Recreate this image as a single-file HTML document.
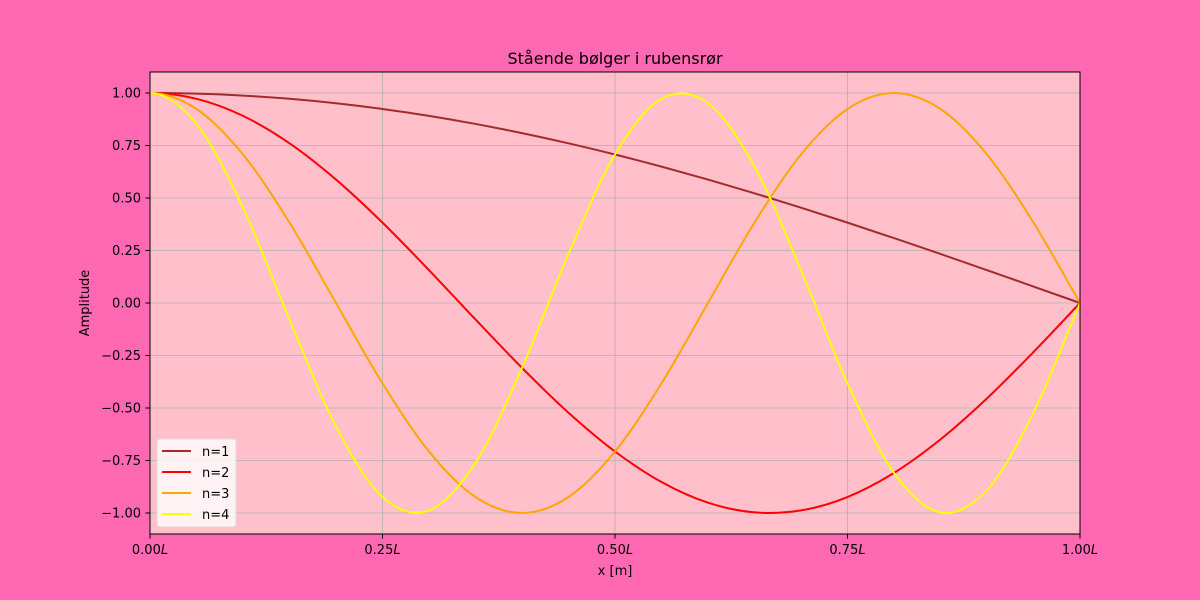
<!DOCTYPE html>
<html><head><meta charset="utf-8"><style>
html,body{margin:0;padding:0;background:#ff69b4;}
svg{display:block;font-family:"DejaVu Sans","Liberation Sans",sans-serif;}
</style></head><body>
<svg id="chart" width="1200" height="600">
<rect x="0" y="0" width="1200" height="600" fill="#ff69b4"/>
<rect x="150" y="72" width="930" height="462" fill="#ffc0cb"/>
<g id="grid"></g>
<g id="series"></g>
<rect x="150" y="72" width="930" height="462" fill="none" stroke="#000" stroke-width="1"/>
<g id="ticks"></g>
<text x="615" y="64" font-size="16" text-anchor="middle">Stående bølger i rubensrør</text>
<text x="615" y="575" font-size="13" text-anchor="middle">x [m]</text>
<text x="89" y="303" font-size="13" text-anchor="middle" transform="rotate(-90 89 303)">Amplitude</text>
<g id="legend"></g>
</svg>
<script>
const xValues=[0,0.05,0.1,0.15,0.2,0.25,0.3,0.35,0.4,0.45,0.5,0.55,0.6,0.65,0.7,0.75,0.8,0.85,0.9,0.95,1];
const seriesN1=[1,.9969,.9877,.9724,.9511,.9239,.8910,.8526,.8090,.7604,.7071,.6494,.5878,.5225,.4540,.3827,.3090,.2334,.1564,.0785,0];
const seriesN2=[1,.9724,.8910,.7604,.5878,.3827,.1564,-.0785,-.3090,-.5225,-.7071,-.8526,-.9511,-.9969,-.9877,-.9239,-.8090,-.6494,-.4540,-.2334,0];
const seriesN3=[1,.9239,.7071,.3827,0,-.3827,-.7071,-.9239,-1,-.9239,-.7071,-.3827,0,.3827,.7071,.9239,1,.9239,.7071,.3827,0];
const seriesN4=[1,.8526,.4540,-.0785,-.5878,-.9239,-.9877,-.7604,-.3090,.2334,.7071,.9724,.9511,.6494,.1564,-.3827,-.8090,-.9969,-.8910,-.5225,0];
const seriesNames=["n=1","n=2","n=3","n=4"];
const seriesColors=["#a52a2a","#ff0000","#ffa500","#ffff00"];
const xTicks=[0,0.25,0.5,0.75,1];
const xTickLabels=["0.00","0.25","0.50","0.75","1.00"];
const yTicks=[-1,-0.75,-0.5,-0.25,0,0.25,0.5,0.75,1];
const yTickLabels=["−1.00","−0.75","−0.50","−0.25","0.00","0.25","0.50","0.75","1.00"];
const NS="http://www.w3.org/2000/svg";
const sx=v=>150+v*930, sy=v=>303-v*210;
function mk(t,a,p){const e=document.createElementNS(NS,t);for(const k in a)e.setAttribute(k,a[k]);p.appendChild(e);return e;}
const grid=document.getElementById('grid'),ticks=document.getElementById('ticks');
xTicks.forEach((v,i)=>{
 const g=mk('line',{x1:sx(v),x2:sx(v),y1:72,y2:534,stroke:'#b0b0b0','stroke-width':0.8},grid);
 
 
 const t=mk('line',{x1:sx(v),x2:sx(v),y1:534,y2:538.5,stroke:'#000'},ticks);
 
 
 const l=mk('text',{x:sx(v),y:554,'font-size':13,'text-anchor':'middle'},ticks);
 l.innerHTML=xTickLabels[i]+'<tspan font-style="italic">L</tspan>';
 
 
});
yTicks.forEach((v,i)=>{
 const g=mk('line',{x1:150,x2:1080,y1:sy(v),y2:sy(v),stroke:'#b0b0b0','stroke-width':0.8},grid);
 
 
 const t=mk('line',{x1:145.5,x2:150,y1:sy(v),y2:sy(v),stroke:'#000'},ticks);
 
 
 const l=mk('text',{x:141,y:sy(v)+4.5,'font-size':13,'text-anchor':'end'},ticks);
 l.textContent=yTickLabels[i];
 
 
});
function pathFor(ys){
 const P=xValues.map((x,i)=>[sx(x),sy(ys[i])]);
 const n=P.length;
 const start=[2*P[0][0]-P[1][0],P[1][1]];
 const end=[2*P[n-1][0]-P[n-2][0],2*P[n-1][1]-P[n-2][1]];
 const Q=[start].concat(P,[end]);
 let d='M'+P[0][0]+','+P[0][1];
 for(let i=1;i<Q.length-2;i++){
  const p0=Q[i-1],p1=Q[i],p2=Q[i+1],p3=Q[i+2];
  const c1=[p1[0]+(p2[0]-p0[0])/6,p1[1]+(p2[1]-p0[1])/6];
  const c2=[p2[0]-(p3[0]-p1[0])/6,p2[1]-(p3[1]-p1[1])/6];
  d+=' C'+c1+' '+c2+' '+p2;
 }
 return d;
}
const sg=document.getElementById('series');
[seriesN1,seriesN2,seriesN3,seriesN4].forEach((ys,i)=>{
 const p=mk('path',{d:pathFor(ys),fill:'none',stroke:seriesColors[i],'stroke-width':2},sg);
 
 
});
const lg=document.getElementById('legend');
const box=mk('rect',{x:157,y:439,width:79,height:88,rx:3,fill:'#fff',opacity:0.8,stroke:'#ddd'},lg);


seriesNames.forEach((n,i)=>{
 const y=451+i*21;
 const ln=mk('line',{x1:162,x2:191,y1:y,y2:y,stroke:seriesColors[i],'stroke-width':2},lg);
 
 
 const t=mk('text',{x:202,y:y+5,'font-size':13},lg);
 t.textContent=n;
 
 
});
</script>
</body></html>
